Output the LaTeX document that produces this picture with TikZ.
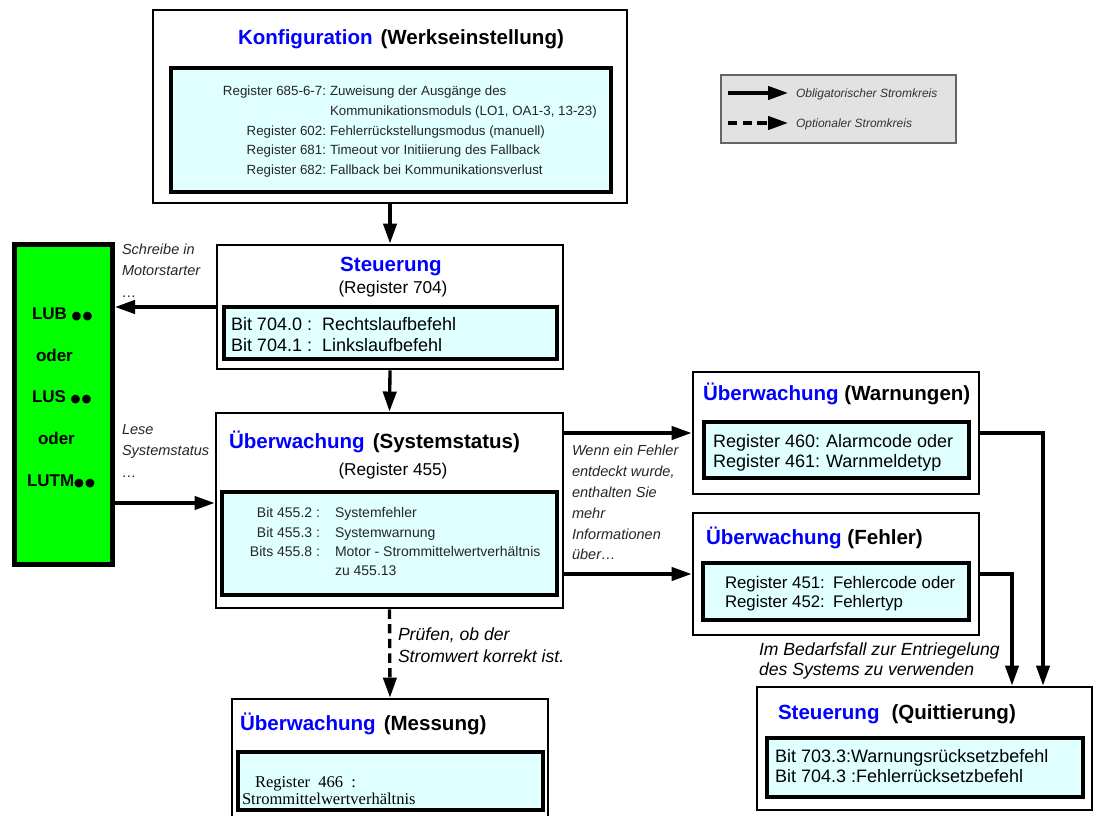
\documentclass[tikz,border=0pt]{standalone}
\usepackage{fontspec}
\setmainfont{Liberation Sans}
\newfontfamily\serifface{Liberation Serif}
\newfontfamily\symface{DejaVu Sans}
\usetikzlibrary{arrows.meta,fit}

\definecolor{boxcyan}{RGB}{224,255,255}
\definecolor{starter}{RGB}{0,255,0}
\definecolor{legendgray}{RGB}{226,226,226}
\definecolor{legendedge}{RGB}{100,100,100}
\definecolor{titleblue}{RGB}{0,0,255}

% two large dots after the device names
\newcommand\devdots{{\symface\fontsize{8.5pt}{9pt}\selectfont ●\kern0.8pt●}}

\tikzset{
  outerbox/.style={draw=black, line width=2.2pt, fill=white, inner sep=0pt},
  innerbox/.style={draw=black, line width=2.5pt, fill=boxcyan, inner sep=0pt},
  txt/.style={inner sep=0pt, outer sep=0pt, anchor=base west},
  txtr/.style={inner sep=0pt, outer sep=0pt, anchor=base east},
  txtc/.style={inner sep=0pt, outer sep=0pt, anchor=base},
  ttl/.style={font=\fontsize{15.4pt}{18pt}\selectfont\bfseries},
  subttl/.style={font=\fontsize{12.9pt}{15pt}\selectfont},
  cfgtext/.style={font=\fontsize{10pt}{12pt}\selectfont, text=black!85},
  bittext/.style={font=\fontsize{13.5pt}{16pt}\selectfont},
  errtext/.style={font=\fontsize{12.6pt}{15pt}\selectfont},
  systext/.style={font=\fontsize{10.5pt}{12pt}\selectfont, text=black!85},
  sidelabel/.style={font=\fontsize{10.9pt}{13pt}\selectfont\itshape, text=black!85},
  biglabel/.style={font=\fontsize{13.2pt}{16pt}\selectfont\itshape},
  legtext/.style={font=\fontsize{9pt}{11pt}\selectfont\itshape, text=black!80},
  devtext/.style={font=\fontsize{12.75pt}{15pt}\selectfont\bfseries},
  flow/.style={line width=2.5pt, -{Triangle[length=15pt,width=10pt]}},
  optflow/.style={flow, dash pattern=on 7pt off 4pt},
}

\begin{document}
\begin{tikzpicture}[x=0.75pt,y=-0.75pt]
\clip (0,0) rectangle (1094,816);
\fill[white] (0,0) rectangle (1094,816);

% ---------- Konfiguration ----------
\node[outerbox, fit={(153,10) (627,203)}] (konf) {};
\node[innerbox, fit={(171,68) (611,192)}] (konfin) {};
\node[txt, ttl] (konft) at (238,45) {\textcolor{titleblue}{Konfiguration}\hspace{6pt}(Werkseinstellung)};
\node[txtr, cfgtext] (k1l) at (326,96) {Register 685-6-7:};
\node[txt,  cfgtext] (k1r) at (330,96) {Zuweisung der Ausgänge des};
\node[txt,  cfgtext] (k2r) at (330,116) {Kommunikationsmoduls (LO1, OA1-3, 13-23)};
\node[txtr, cfgtext] (k3l) at (326,135.5) {Register 602:};
\node[txt,  cfgtext] (k3r) at (330,135.5) {Fehlerrückstellungsmodus (manuell)};
\node[txtr, cfgtext] (k4l) at (326,155) {Register 681:};
\node[txt,  cfgtext] (k4r) at (330,155) {Timeout vor Initiierung des Fallback};
\node[txtr, cfgtext] (k5l) at (326,174.5) {Register 682:};
\node[txt,  cfgtext] (k5r) at (330,174.5) {Fallback bei Kommunikationsverlust};

% ---------- Legende ----------
\node[draw=legendedge, line width=1.2pt, fill=legendgray, inner sep=0pt, fit={(721,75) (956,143)}] (legend) {};
\coordinate (lsa) at (728,93);
\coordinate (lsb) at (788,93);
\coordinate (loa) at (728,123);
\coordinate (lob) at (788,123);
\draw[flow] (lsa) -- (lsb);
\draw[optflow] (loa) -- (lob);
\node[txt, legtext] (leg1) at (796,98) {Obligatorischer Stromkreis};
\node[txt, legtext] (leg2) at (796,128) {Optionaler Stromkreis};

% ---------- Motorstarter ----------
\node[draw=black, line width=3.8pt, fill=starter, inner sep=0pt, fit={(14.5,244.5) (112.5,564.5)}] (starter) {};
\node[txt, devtext] (d1) at (32,319) {LUB \devdots};
\node[txt, devtext] (d2) at (36,361) {oder};
\node[txt, devtext] (d3) at (32,402) {LUS \devdots};
\node[txt, devtext] (d4) at (38,444) {oder};
\node[txt, devtext] (d5) at (27,486) {LUTM\devdots};

\node[txt, sidelabel] (s1) at (122,255) {Schreibe in};
\node[txt, sidelabel] (s2) at (122,276) {Motorstarter};
\node[txt, sidelabel] (s3) at (122,297) {…};
\node[txt, sidelabel] (s4) at (122,434) {Lese};
\node[txt, sidelabel] (s5) at (122,455) {Systemstatus};
\node[txt, sidelabel] (s6) at (122,477) {…};

% ---------- Steuerung ----------
\node[outerbox, fit={(217,245) (563,369)}] (steu) {};
\node[innerbox, fit={(224,307) (557,359)}] (steuin) {};
\node[txtc, ttl, text=titleblue] (steut) at (391,272) {Steuerung};
\node[txtc, subttl] (steus) at (393,293) {(Register 704)};
\node[txt, bittext] (b1l) at (231,330) {Bit 704.0 :};
\node[txt, bittext] (b1r) at (322,330) {Rechtslaufbefehl};
\node[txt, bittext] (b2l) at (231,351) {Bit 704.1 :};
\node[txt, bittext] (b2r) at (322,351) {Linkslaufbefehl};

% ---------- Überwachung (Systemstatus) ----------
\node[outerbox, fit={(216,413) (563,608)}] (sys) {};
\node[innerbox, fit={(222,492) (557,595)}] (sysin) {};
\node[txt, ttl] (syst) at (229,448) {\textcolor{titleblue}{Überwachung}\hspace{6pt}(Systemstatus)};
\node[txtc, subttl] (syss) at (393,475) {(Register 455)};
\node[txtr, systext] (y1l) at (320,517) {Bit 455.2 :};
\node[txt,  systext] (y1r) at (335,517) {Systemfehler};
\node[txtr, systext] (y2l) at (320,537) {Bit 455.3 :};
\node[txt,  systext] (y2r) at (335,537) {Systemwarnung};
\node[txtr, systext] (y3l) at (320,556) {Bits 455.8 :};
\node[txt,  systext] (y3r) at (335,556) {Motor - Strommittelwertverhältnis};
\node[txt,  systext] (y4r) at (335,575) {zu 455.13};

% ---------- Überwachung (Warnungen) ----------
\node[outerbox, fit={(693,372) (979,494)}] (warn) {};
\node[innerbox, fit={(704,422) (969,478)}] (warnin) {};
\node[txt, ttl] (warnt) at (703,400) {\textcolor{titleblue}{Überwachung} (Warnungen)};
\node[txt, bittext] (w1l) at (713,447) {Register 460:};
\node[txt, bittext] (w1r) at (826,447) {Alarmcode oder};
\node[txt, bittext] (w2l) at (713,467) {Register 461:};
\node[txt, bittext] (w2r) at (826,467) {Warnmeldetyp};

% ---------- Überwachung (Fehler) ----------
\node[outerbox, fit={(693,513) (979,635)}] (fehl) {};
\node[innerbox, fit={(703,563) (969,620)}] (fehlin) {};
\node[txt, ttl] (fehlt) at (706,544) {\textcolor{titleblue}{Überwachung} (Fehler)};
\node[txt, errtext] (f1l) at (725,588) {Register 451:};
\node[txt, errtext] (f1r) at (833,588) {Fehlercode oder};
\node[txt, errtext] (f2l) at (725,607) {Register 452:};
\node[txt, errtext] (f2r) at (833,607) {Fehlertyp};

\node[txt, sidelabel] (e1) at (572,455) {Wenn ein Fehler};
\node[txt, sidelabel] (e2) at (572,476) {entdeckt wurde,};
\node[txt, sidelabel] (e3) at (572,497) {enthalten Sie};
\node[txt, sidelabel] (e4) at (572,518) {mehr};
\node[txt, sidelabel] (e5) at (572,539) {Informationen};
\node[txt, sidelabel] (e6) at (572,559) {über…};

% ---------- Steuerung (Quittierung) ----------
\node[outerbox, fit={(757,687) (1092,810)}] (quit) {};
\node[innerbox, fit={(767,738) (1083,797)}] (quitin) {};
\node[txt, ttl] (quitt) at (778,719) {\textcolor{titleblue}{Steuerung}\hspace{9pt}(Quittierung)};
\node[txt, bittext] (q1) at (775,762) {Bit 703.3:Warnungsrücksetzbefehl};
\node[txt, bittext] (q2) at (775,782) {Bit 704.3 :Fehlerrücksetzbefehl};

\node[txt, biglabel] (r1) at (759,655) {Im Bedarfsfall zur Entriegelung};
\node[txt, biglabel] (r2) at (759,675) {des Systems zu verwenden};

% ---------- Überwachung (Messung) ----------
\node[outerbox, fit={(232,699) (548,830)}] (mess) {};
\node[innerbox, fit={(238,752) (543,810)}] (messin) {};
\node[txt, ttl] (messt) at (240,730) {\textcolor{titleblue}{Überwachung}\hspace{6pt}(Messung)};
\node[txt, font=\serifface\fontsize{12.4pt}{14pt}\selectfont] (m1) at (255,787) {Register\ \ 466\ \ :};
\node[txt, font=\serifface\fontsize{12.4pt}{14pt}\selectfont] (m2) at (242,804) {Strommittelwertverhältnis};

\node[txt, biglabel] (p1) at (398,640) {Prüfen, ob der};
\node[txt, biglabel] (p2) at (398,662) {Stromwert korrekt ist.};

% ---------- connectors ----------
\coordinate (rdrow) at (0,503);
\coordinate (wqx) at (1043,0);
\coordinate (fqx) at (1012,0);

\draw[flow] (konf.south) -- (steu.north);
\draw[flow] (steu.south) -- (sys.north);
\draw[flow] (steu.west) -- (steu.west -| starter.east);
\draw[flow] (starter.east |- rdrow) -- (sys.west |- rdrow);
\draw[flow] (sys.east |- warn.west) -- (warn.west);
\draw[flow] (sys.east |- fehl.west) -- (fehl.west);
\draw[flow] (warn.east) -| (wqx |- quit.north);
\draw[flow] (fehl.east) -| (fqx |- quit.north);
\draw[optflow] (sys.south) -- (mess.north);
\end{tikzpicture}
\end{document}
